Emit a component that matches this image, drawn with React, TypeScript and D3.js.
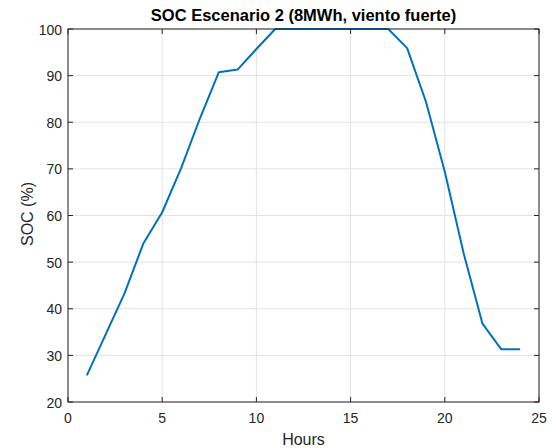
import React from "react";
import * as d3 from "d3";

// Hourly state of charge for scenario 2 (8 MWh storage, strong wind)
const hours = [1, 2, 3, 4, 5, 6, 7, 8, 9, 10, 11, 12, 13, 14, 15, 16, 17, 18, 19, 20, 21, 22, 23, 24];
const soc = [25.7, 34.5, 43.3, 54, 60.7, 70.1, 80.8, 90.7, 91.3, 95.7, 100, 100, 100, 100, 100, 100, 100, 95.9, 84.4, 69.4, 51.9, 36.8, 31.3, 31.3];

const xTicks = [0, 5, 10, 15, 20, 25];
const yTicks = [20, 30, 40, 50, 60, 70, 80, 90, 100];

const titleText = "SOC Escenario 2 (8MWh, viento fuerte)";
const xLabel = "Hours";
const yLabel = "SOC (%)";

export default function App() {
  const width = 556;
  const height = 448;
  const left = 68;
  const right = 539;
  const top = 29;
  const bottom = 402;

  const x = d3.scaleLinear().domain([0, 25]).range([left, right]);
  const y = d3.scaleLinear().domain([20, 100]).range([bottom, top]);

  const line = d3
    .line<number>()
    .x((_, i) => x(hours[i]))
    .y((d) => y(d));

  const axisColor = "#262626";
  const gridColor = "#e3e3e3";
  const font = "'Liberation Sans', Arial, Helvetica, sans-serif";
  const tickLen = 5;

  return (
    <svg
      width={width}
      height={height}
      style={{ position: "absolute", left: 0, top: 0, background: "#fff" }}
      fontFamily={font}
    >
      <rect x={0} y={0} width={width} height={height} fill="#fff" />
      {/* grid */}
      {xTicks.map((t) => (
        <line key={"gx" + t} x1={x(t)} x2={x(t)} y1={top} y2={bottom} stroke={gridColor} strokeWidth={1} />
      ))}
      {yTicks.map((t) => (
        <line key={"gy" + t} x1={left} x2={right} y1={y(t)} y2={y(t)} stroke={gridColor} strokeWidth={1} />
      ))}
      {/* data */}
      <path d={line(soc) ?? ""} fill="none" stroke="#0072BD" strokeWidth={2} strokeLinejoin="round" />
      {/* box */}
      <rect x={left} y={top} width={right - left} height={bottom - top} fill="none" stroke={axisColor} strokeWidth={1} />
      {/* ticks */}
      {xTicks.map((t) => (
        <g key={"tx" + t}>
          <line x1={x(t)} x2={x(t)} y1={bottom} y2={bottom - tickLen} stroke={axisColor} />
          <line x1={x(t)} x2={x(t)} y1={top} y2={top + tickLen} stroke={axisColor} />
          <text x={x(t)} y={423} textAnchor="middle" fontSize={14} fill={axisColor}>
            {t}
          </text>
        </g>
      ))}
      {yTicks.map((t) => (
        <g key={"ty" + t}>
          <line x1={left} x2={left + tickLen} y1={y(t)} y2={y(t)} stroke={axisColor} />
          <line x1={right} x2={right - tickLen} y1={y(t)} y2={y(t)} stroke={axisColor} />
          <text x={left - 6} y={y(t) + 5.5} textAnchor="end" fontSize={14} fill={axisColor}>
            {t}
          </text>
        </g>
      ))}
      {/* labels */}
      <text x={(left + right) / 2} y={21} textAnchor="middle" fontSize={16.5} fontWeight="bold" fill="#000">
        {titleText}
      </text>
      <text x={(left + right) / 2} y={445} textAnchor="middle" fontSize={16} fill={axisColor}>
        {xLabel}
      </text>
      <text
        transform={`translate(${33},${214}) rotate(-90)`}
        textAnchor="middle"
        fontSize={16}
        fill={axisColor}
      >
        {yLabel}
      </text>
    </svg>
  );
}
